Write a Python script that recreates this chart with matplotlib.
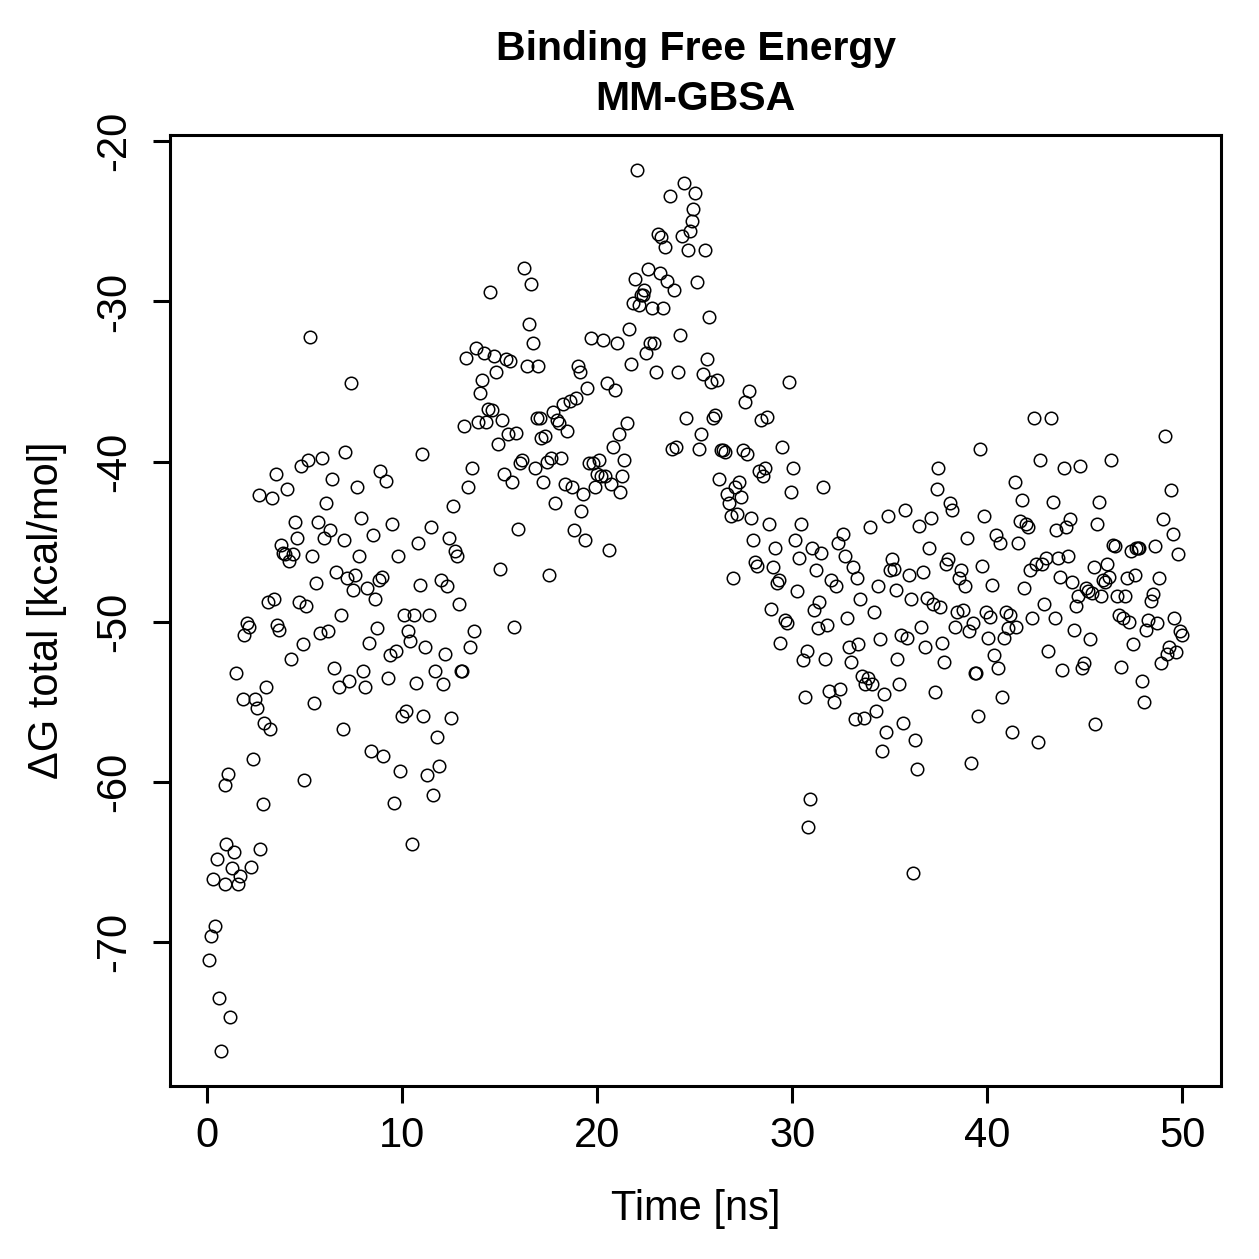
import matplotlib
matplotlib.use("Agg")
import matplotlib.pyplot as plt

# MM-GBSA binding free energy per frame
time_ns = [
    0.1, 0.2, 0.3, 0.4, 0.5, 0.6, 0.7, 0.9, 0.9, 1.0, 1.1, 1.2, 1.3, 1.4, 1.5, 1.6, 1.7, 1.85, 1.9, 2.05,
    2.15, 2.25, 2.35, 2.45, 2.55, 2.65, 2.7, 2.85, 2.95, 3.05, 3.15, 3.25, 3.35, 3.45, 3.55, 3.6, 3.7, 3.8, 3.9, 4.0,
    4.1, 4.2, 4.3, 4.4, 4.5, 4.6, 4.7, 4.8, 4.9, 5.0, 5.1, 5.2, 5.3, 5.4, 5.5, 5.6, 5.7, 5.8, 5.9, 6.0,
    6.1, 6.2, 6.3, 6.4, 6.5, 6.6, 6.75, 6.85, 6.95, 7.05, 7.1, 7.2, 7.3, 7.4, 7.5, 7.6, 7.7, 7.8, 7.9, 8.0,
    8.1, 8.2, 8.3, 8.4, 8.5, 8.6, 8.7, 8.8, 8.85, 8.95, 9.05, 9.2, 9.3, 9.4, 9.5, 9.6, 9.7, 9.8, 9.9, 10.0,
    10.1, 10.2, 10.3, 10.4, 10.5, 10.6, 10.7, 10.8, 10.9, 11.0, 11.1, 11.2, 11.3, 11.4, 11.5, 11.6, 11.7, 11.8, 11.9, 12.0,
    12.1, 12.2, 12.3, 12.4, 12.5, 12.6, 12.7, 12.8, 12.9, 13.0, 13.1, 13.2, 13.3, 13.4, 13.5, 13.6, 13.7, 13.8, 13.9, 14.0,
    14.1, 14.2, 14.3, 14.4, 14.5, 14.6, 14.7, 14.8, 14.9, 15.0, 15.1, 15.25, 15.35, 15.45, 15.55, 15.65, 15.75, 15.85, 15.95, 16.05,
    16.15, 16.25, 16.4, 16.5, 16.6, 16.7, 16.8, 16.9, 16.95, 17.05, 17.15, 17.25, 17.35, 17.45, 17.55, 17.65, 17.75, 17.85, 17.95, 18.05,
    18.15, 18.25, 18.35, 18.45, 18.6, 18.7, 18.8, 18.9, 19.0, 19.1, 19.2, 19.3, 19.4, 19.5, 19.6, 19.7, 19.8, 19.9, 20.0, 20.1,
    20.2, 20.3, 20.4, 20.5, 20.6, 20.7, 20.8, 20.9, 21.0, 21.1, 21.2, 21.3, 21.4, 21.55, 21.65, 21.75, 21.85, 21.95, 22.05, 22.15,
    22.25, 22.35, 22.4, 22.5, 22.6, 22.7, 22.8, 22.9, 23.0, 23.1, 23.2, 23.3, 23.4, 23.5, 23.6, 23.75, 23.85, 23.95, 24.05, 24.15,
    24.25, 24.35, 24.45, 24.55, 24.65, 24.75, 24.85, 24.9, 25.0, 25.1, 25.2, 25.35, 25.45, 25.55, 25.65, 25.75, 25.85, 25.95, 26.05, 26.15,
    26.25, 26.35, 26.45, 26.55, 26.65, 26.75, 26.85, 26.95, 27.05, 27.15, 27.3, 27.4, 27.5, 27.6, 27.7, 27.8, 27.9, 28.0, 28.1, 28.2,
    28.3, 28.4, 28.5, 28.6, 28.7, 28.8, 28.9, 29.0, 29.1, 29.2, 29.3, 29.4, 29.5, 29.65, 29.75, 29.85, 29.95, 30.05, 30.15, 30.25,
    30.35, 30.45, 30.55, 30.65, 30.75, 30.8, 30.9, 31.0, 31.1, 31.2, 31.3, 31.4, 31.5, 31.6, 31.7, 31.8, 31.9, 32.0, 32.15, 32.25,
    32.35, 32.45, 32.6, 32.7, 32.8, 32.9, 33.0, 33.1, 33.2, 33.3, 33.4, 33.5, 33.6, 33.7, 33.75, 33.9, 34.0, 34.1, 34.2, 34.3,
    34.4, 34.5, 34.6, 34.7, 34.8, 34.9, 35.0, 35.1, 35.2, 35.3, 35.4, 35.5, 35.6, 35.7, 35.8, 35.9, 36.0, 36.1, 36.2, 36.3,
    36.4, 36.5, 36.6, 36.7, 36.8, 36.9, 37.0, 37.1, 37.2, 37.3, 37.4, 37.5, 37.6, 37.7, 37.8, 37.9, 38.0, 38.1, 38.2, 38.35,
    38.45, 38.55, 38.65, 38.75, 38.85, 38.95, 39.05, 39.15, 39.25, 39.35, 39.45, 39.55, 39.65, 39.75, 39.85, 39.95, 40.05, 40.15, 40.25, 40.35,
    40.45, 40.55, 40.65, 40.75, 40.85, 40.95, 41.05, 41.15, 41.25, 41.4, 41.5, 41.6, 41.7, 41.8, 41.9, 42.0, 42.1, 42.2, 42.3, 42.4,
    42.5, 42.6, 42.7, 42.8, 42.9, 43.0, 43.1, 43.25, 43.35, 43.45, 43.55, 43.65, 43.75, 43.85, 43.95, 44.05, 44.15, 44.25, 44.35, 44.45,
    44.55, 44.65, 44.75, 44.85, 44.95, 45.05, 45.15, 45.25, 45.35, 45.45, 45.55, 45.65, 45.75, 45.85, 45.95, 46.05, 46.15, 46.25, 46.35, 46.45,
    46.55, 46.65, 46.75, 46.85, 46.95, 47.05, 47.15, 47.25, 47.35, 47.45, 47.55, 47.65, 47.75, 47.8, 47.95, 48.05, 48.15, 48.25, 48.4, 48.5,
    48.6, 48.7, 48.8, 48.9, 49.0, 49.1, 49.2, 49.3, 49.4, 49.5, 49.6, 49.7, 49.8, 49.9, 50.0,
]
dg_total = [
    -71.1, -69.6, -66.1, -69.0, -64.8, -73.5, -76.8, -66.4, -60.2, -63.9, -59.5, -74.7, -65.4, -64.4, -53.2, -66.4, -65.9, -54.8, -50.8, -50.1,
    -50.3, -65.3, -58.6, -54.8, -55.4, -42.1, -64.2, -61.4, -56.3, -54.1, -48.8, -56.7, -42.3, -48.6, -40.8, -50.2, -50.5, -45.2, -45.7, -45.8,
    -41.7, -46.2, -52.3, -45.8, -43.8, -44.8, -48.8, -40.3, -51.4, -59.9, -49.0, -39.9, -32.2, -45.9, -55.1, -47.6, -43.8, -50.7, -39.8, -44.8,
    -42.6, -50.6, -44.3, -41.1, -52.9, -46.9, -54.1, -49.6, -56.7, -44.9, -39.4, -47.3, -53.7, -35.1, -48.0, -47.1, -41.6, -45.9, -43.5, -53.1,
    -54.1, -47.9, -51.3, -58.1, -44.6, -48.6, -50.4, -47.4, -40.6, -47.2, -58.4, -41.2, -53.5, -52.1, -43.9, -61.3, -51.8, -45.9, -59.3, -55.9,
    -49.6, -55.6, -50.6, -51.2, -63.9, -49.6, -53.8, -45.1, -47.7, -39.5, -55.9, -51.6, -59.6, -49.6, -44.1, -60.8, -53.1, -57.2, -59.0, -47.4,
    -53.9, -52.0, -47.8, -44.8, -56.0, -42.8, -45.6, -45.9, -48.9, -53.1, -53.1, -37.8, -33.5, -41.6, -51.6, -40.4, -50.6, -32.9, -37.5, -35.7,
    -34.9, -33.2, -37.5, -36.7, -29.4, -36.8, -33.4, -34.4, -38.9, -46.7, -37.4, -40.8, -33.6, -38.3, -33.7, -41.3, -50.3, -38.2, -44.2, -40.1,
    -39.9, -27.9, -34.0, -31.4, -28.9, -32.6, -40.4, -37.3, -34.0, -37.3, -38.5, -41.3, -38.4, -40.0, -47.1, -39.8, -36.9, -42.6, -37.4, -37.6,
    -39.8, -36.4, -41.4, -38.1, -36.2, -41.6, -44.3, -36.0, -34.0, -34.4, -43.1, -42.0, -44.9, -35.4, -40.1, -32.3, -40.1, -41.6, -40.8, -39.9,
    -40.9, -32.4, -40.9, -35.1, -45.5, -41.4, -39.1, -35.5, -32.6, -38.3, -41.9, -40.9, -39.9, -37.6, -31.7, -33.9, -30.1, -28.6, -21.8, -30.2,
    -29.6, -29.6, -29.3, -33.2, -28.0, -32.6, -30.4, -32.6, -34.4, -25.8, -28.2, -26.0, -30.4, -26.6, -28.7, -23.4, -39.2, -29.3, -39.1, -34.4,
    -32.1, -25.9, -22.6, -37.3, -26.8, -25.6, -25.0, -24.2, -23.2, -28.8, -39.2, -38.3, -34.5, -26.8, -33.6, -31.0, -35.0, -37.3, -37.1, -34.9,
    -41.1, -39.3, -39.3, -39.4, -42.0, -42.6, -43.4, -47.3, -41.6, -43.3, -41.3, -42.2, -39.3, -36.3, -39.5, -35.6, -43.5, -44.9, -46.3, -46.5,
    -40.6, -37.4, -40.9, -40.4, -37.2, -43.9, -49.2, -46.6, -45.4, -47.6, -47.4, -51.3, -39.1, -49.9, -50.1, -35.0, -41.9, -40.4, -44.9, -48.1,
    -46.0, -43.9, -52.4, -54.7, -51.8, -62.8, -61.1, -45.4, -49.3, -46.8, -50.4, -48.8, -45.7, -41.6, -52.3, -50.2, -54.3, -47.4, -55.0, -47.8,
    -45.1, -54.2, -44.5, -45.9, -49.8, -51.6, -52.5, -46.6, -56.1, -47.3, -51.4, -48.6, -53.4, -56.0, -53.9, -53.5, -44.1, -53.9, -49.4, -55.6,
    -47.8, -51.1, -58.1, -54.5, -56.9, -43.4, -46.8, -46.1, -46.7, -48.0, -52.3, -53.9, -50.8, -56.3, -43.0, -51.0, -47.1, -48.6, -65.7, -57.4,
    -59.2, -44.0, -50.3, -46.9, -51.6, -48.5, -45.4, -43.5, -48.9, -54.4, -41.7, -40.4, -49.1, -51.3, -52.5, -46.4, -46.1, -42.6, -43.0, -50.3,
    -49.4, -47.3, -46.8, -49.3, -47.8, -44.8, -50.6, -58.8, -50.1, -53.2, -53.2, -55.9, -39.2, -46.5, -43.4, -49.4, -51.0, -49.7, -47.7, -52.1,
    -44.6, -52.9, -45.1, -54.7, -51.0, -49.4, -50.4, -49.6, -56.9, -41.3, -50.3, -45.1, -43.7, -42.4, -47.9, -43.9, -44.1, -46.8, -49.8, -37.3,
    -46.4, -57.5, -39.9, -46.4, -48.9, -46.0, -51.8, -37.3, -42.5, -49.8, -44.3, -46.0, -47.2, -53.0, -40.4, -44.1, -45.9, -43.6, -47.5, -50.5,
    -49.0, -48.4, -40.3, -52.9, -52.6, -47.9, -48.1, -51.1, -48.2, -46.6, -56.4, -43.9, -42.5, -48.4, -47.4, -47.5, -46.4, -47.2, -39.9, -45.2,
    -45.3, -48.4, -49.6, -52.8, -49.8, -48.4, -47.3, -50.0, -45.6, -51.4, -47.1, -45.4, -45.4, -45.4, -53.7, -55.0, -50.5, -49.9, -48.7, -48.3,
    -45.3, -50.1, -47.3, -52.6, -43.6, -38.4, -52.0, -51.6, -41.8, -44.5, -49.8, -51.9, -45.8, -50.6, -50.8,
]

plt.rcParams['font.family'] = ['Liberation Sans', 'DejaVu Sans']
plt.rcParams['axes.unicode_minus'] = False

fig = plt.figure(figsize=(12.59, 12.59), dpi=100)
ax = fig.add_axes([0.135, 0.1374, 0.835, 0.7554])

ax.plot(time_ns, dg_total, 'o', mfc='none', mec='black', ms=9, mew=1.1, ls='none')

ax.margins(0.04)
ax.set_xticks([0, 10, 20, 30, 40, 50])
ax.set_yticks([-70, -60, -50, -40, -30, -20])
ax.tick_params(direction='out', length=12.5, width=2.2, labelsize=30)
ax.tick_params(axis='x', pad=9)
ax.tick_params(axis='y', pad=13)
for lab in ax.get_yticklabels():
    lab.set_rotation(90)
    lab.set_va('center')
for sp in ax.spines.values():
    sp.set_linewidth(2.2)

ax.set_xlabel('Time [ns]', fontsize=30, labelpad=24)
ax.set_ylabel('ΔG total [kcal/mol]', fontsize=30, labelpad=20)
ax.set_title('Binding Free Energy\nMM-GBSA', fontsize=29.5, fontweight='bold', pad=18, linespacing=1.4)

fig.savefig('out.png', dpi=100)
